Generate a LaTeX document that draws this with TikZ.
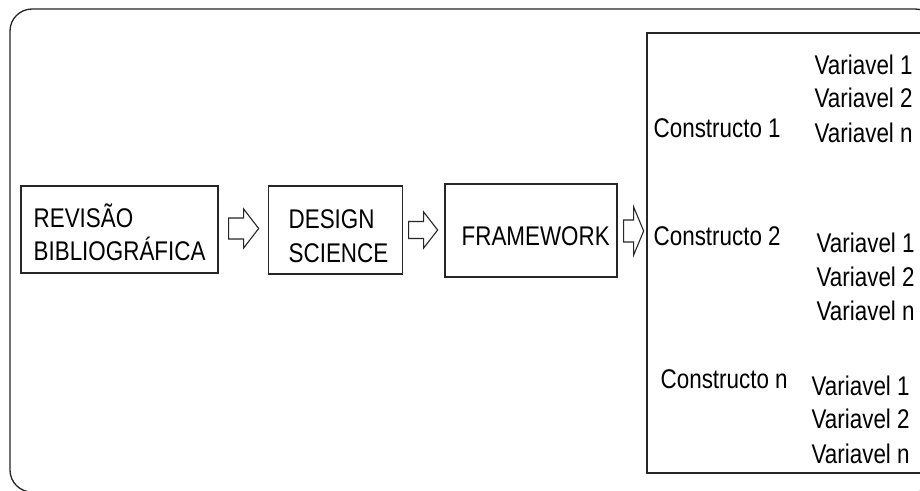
\documentclass[tikz,border=0pt]{standalone}
\usepackage{fontspec}
\setmainfont{Liberation Sans}[FakeStretch=0.83]
\newcommand\barrow[5]{\draw[arr] (#1) ++(0,-#4) -- ++({#2-#3},0) -- ++(0,{#4-#5}) -- ++(#3,#5) -- ++(-#3,#5) -- ++(0,{#4-#5}) -- ++({#3-#2},0) -- cycle;}
\begin{document}
\begin{tikzpicture}[x=1pt,y=-1pt,
  line width=1.3pt,
  box/.style={draw=black!85, line width=1.3pt, inner sep=0pt},
  lbl/.style={anchor=base west, inner sep=0pt, font=\fontsize{27}{34}\selectfont},
  arr/.style={draw=black!85, line width=1.1pt, fill=white, line join=miter}]
\clip (0,0) rectangle (920,490);
\fill[white] (0,0) rectangle (920,490);
% outer frame
\draw[black!85, line width=1.3pt, rounded corners=22pt] (10,9) rectangle (937,492);
% process boxes
\node[box, minimum width=197pt, minimum height=87pt] (b1) at (119.5,229.5) {};
\node[box, minimum width=134pt, minimum height=88pt] (b2) at (335.5,230) {};
\node[box, minimum width=172pt, minimum height=93pt] (b3) at (531,230.5) {};
\node[box, minimum width=288pt, minimum height=440pt] (rb) at (791,253) {};
% box labels
\node[lbl] (t1a) at (33,227) {REVISÃO};
\node[lbl] (t1b) at (33,260) {BIBLIOGRÁFICA};
\node[lbl] (t2a) at (288,228) {DESIGN};
\node[lbl] (t2b) at (288,262) {SCIENCE};
\node[lbl] (t3) at (461,245) {FRAMEWORK};
% block arrows
\path (b1.east) ++(10,-1) coordinate (a1);
\path (b2.east) ++(5.5,0) coordinate (a2);
\path (b3.east) ++(6,0.5) coordinate (a3);
\barrow{a1}{30}{15}{10.5}{19.5}
\barrow{a2}{29}{14}{8.5}{18}
\barrow{a3}{20}{10}{11}{24}
% constructs
\node[lbl] (c1) at (653,137) {Constructo 1};
\node[lbl] (c2) at (653,245) {Constructo 2};
\node[lbl] (cn) at (660,388) {Constructo n};
% variables
\node[lbl] (v11) at (814,74) {Variavel 1};
\node[lbl] (v12) at (814,107) {Variavel 2};
\node[lbl] (v1n) at (814,142) {Variavel n};
\node[lbl] (v21) at (816,252) {Variavel 1};
\node[lbl] (v22) at (816,286) {Variavel 2};
\node[lbl] (v2n) at (816,320) {Variavel n};
\node[lbl] (v31) at (811,395) {Variavel 1};
\node[lbl] (v32) at (811,428) {Variavel 2};
\node[lbl] (v3n) at (811,463) {Variavel n};
\end{tikzpicture}
\end{document}
